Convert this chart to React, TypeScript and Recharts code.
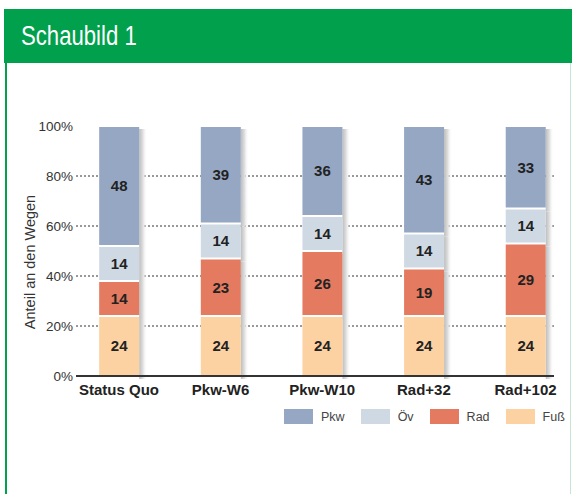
import { BarChart, Bar, XAxis, YAxis, CartesianGrid, LabelList, Legend } from 'recharts';

const categories = ['Status Quo', 'Pkw-W6', 'Pkw-W10', 'Rad+32', 'Rad+102'];
const fuss = [24, 24, 24, 24, 24];
const rad = [14, 23, 26, 19, 29];
const oev = [14, 14, 14, 14, 14];
const pkw = [48, 39, 36, 43, 33];
const yTicks = [0, 20, 40, 60, 80, 100];
const gridValues = [20, 40, 60, 80];

const series = [
    { key: 'fuss', name: 'Fuß', color: '#fdd2a2' },
    { key: 'rad', name: 'Rad', color: '#e47a5f' },
    { key: 'oev', name: 'Öv', color: '#cfd9e3' },
    { key: 'pkw', name: 'Pkw', color: '#95a7c2' },
];
const legendOrder = ['pkw', 'oev', 'rad', 'fuss'];

const data = categories.map((name, i) => ({
    name,
    pos: i,
    fuss: fuss[i],
    rad: rad[i],
    oev: oev[i],
    pkw: pkw[i],
}));

const FONT = '"Liberation Sans", Arial, sans-serif';

const SegmentShape = (props: any) => {
    const { x, y, width, height, fill } = props;
    if (!height) return null;
    return (
        <g>
            <defs>
                <linearGradient id="barShadow" x1="0" y1="0" x2="1" y2="0">
                    <stop offset="0%" stopColor="#bdbdbd" />
                    <stop offset="45%" stopColor="#dedede" />
                    <stop offset="100%" stopColor="#ffffff" stopOpacity={0} />
                </linearGradient>
            </defs>
            <rect x={x + width} y={y + 3} width={8} height={height} fill="url(#barShadow)" />
            <rect x={x} y={y + 1} width={width} height={Math.max(height - 2, 0)} fill={fill} />
        </g>
    );
};

const renderLegend = () => (
    <div style={{ display: 'flex', alignItems: 'center', gap: 16, fontFamily: FONT, fontSize: 12.5, color: '#444' }}>
        {legendOrder.map((k) => {
            const s = series.find((d) => d.key === k)!;
            return (
                <div key={k} style={{ display: 'flex', alignItems: 'center' }}>
                    <span style={{ display: 'inline-block', width: 29, height: 15, background: s.color, marginRight: 8 }} />
                    <span>{s.name}</span>
                </div>
            );
        })}
    </div>
);

const AxisTitle = (props: any) => {
    const vb = props.viewBox;
    const cx = vb.x - 1;
    const cy = vb.y + vb.height / 2 + 11;
    return (
        <text
            x={cx}
            y={cy}
            transform={`rotate(-90 ${cx} ${cy})`}
            textAnchor="middle"
            fontFamily={FONT}
            fontSize={14.5}
            fill="#333">
            Anteil an den Wegen
        </text>
    );
};

export default function App() {
    return (
        <div style={{ position: 'fixed', left: 0, top: 0, width: 572, height: 494, background: '#fff', overflow: 'hidden' }}>
            <div
                style={{
                    position: 'absolute',
                    left: 4,
                    top: 9,
                    width: 568,
                    height: 54,
                    background: '#00a04c',
                }}>
                <div
                    style={{
                        position: 'absolute',
                        left: 17,
                        top: 11,
                        color: '#fff',
                        fontFamily: FONT,
                        fontSize: 27,
                        lineHeight: '32px',
                        transform: 'scaleX(0.82)',
                        transformOrigin: 'left center',
                        whiteSpace: 'nowrap',
                    }}>
                    Schaubild 1
                </div>
            </div>
            <div style={{ position: 'absolute', left: 5, top: 63, width: 2, height: 431, background: '#00a04c' }} />
            <div style={{ position: 'absolute', left: 570, top: 63, width: 1, height: 431, background: '#c6e5d0' }} />
            <div style={{ position: 'absolute', left: 0, top: 0 }}>
                <BarChart width={572} height={494} data={data} margin={{ top: 126, right: 18, bottom: 88, left: 36 }}>
                    <CartesianGrid
                        vertical={false}
                        horizontalValues={gridValues}
                        stroke="#333"
                        strokeDasharray="2 2"
                    />
                    <XAxis
                        type="number"
                        dataKey="pos"
                        domain={[-0.423, 4.28]}
                        allowDataOverflow
                        ticks={[0, 1, 2, 3, 4]}
                        tickFormatter={(v: number) => categories[v]}
                        tickLine={false}
                        axisLine={{ stroke: '#333', strokeWidth: 2 }}
                        height={30}
                        tick={{ fontFamily: FONT, fontSize: 15, fontWeight: 'bold', fill: '#222' }}
                    />
                    <YAxis
                        type="number"
                        domain={[0, 100]}
                        ticks={yTicks}
                        tickFormatter={(v: number) => `${v}%`}
                        width={40}
                        axisLine={false}
                        tickLine={false}
                        tickSize={3}
                        tickMargin={0}
                        tick={{ fontFamily: FONT, fontSize: 13.5, fill: '#333' }}
                        label={{ content: AxisTitle }}
                    />
                    <Legend
                        layout="horizontal"
                        verticalAlign="middle"
                        align="center"
                        content={renderLegend}
                        wrapperStyle={{ left: 284, top: 409, width: 280 }}
                    />
                    {series.map((s) => (
                        <Bar
                            key={s.key}
                            dataKey={s.key}
                            name={s.name}
                            stackId="a"
                            fill={s.color}
                            barSize={40}
                            shape={SegmentShape}
                            isAnimationActive={false}>
                            <LabelList
                                dataKey={s.key}
                                position="center"
                                fill="#222"
                                fontFamily={FONT}
                                fontSize={15}
                                fontWeight="bold"
                            />
                        </Bar>
                    ))}
                </BarChart>
            </div>
        </div>
    );
}
